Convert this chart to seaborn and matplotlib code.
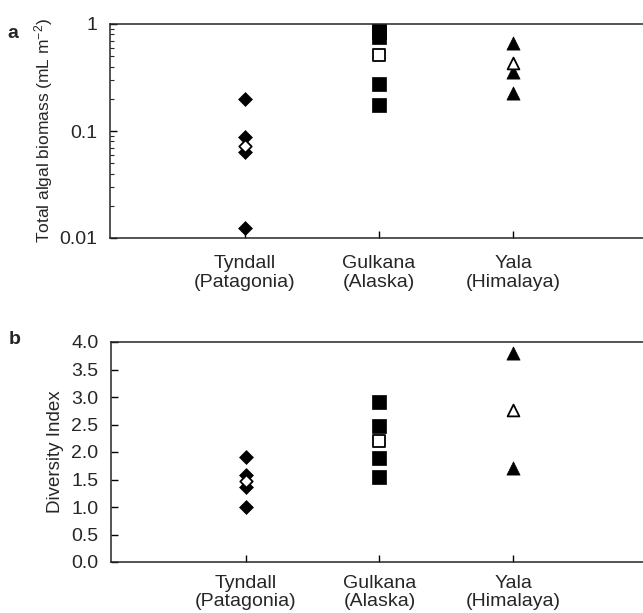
import numpy as np
import pandas as pd
import matplotlib
matplotlib.use("Agg")
import matplotlib.pyplot as plt
import matplotlib.ticker as mticker
import seaborn as sns

sns.set_style("ticks")
plt.rcParams["font.family"] = ["Liberation Sans", "DejaVu Sans"]
plt.rcParams["mathtext.fontset"] = "custom"
plt.rcParams["mathtext.rm"] = "Liberation Sans"
plt.rcParams["mathtext.it"] = "Liberation Sans:italic"

# glacier sites (x categories)
sites = ["Tyndall\n(Patagonia)", "Gulkana\n(Alaska)", "Yala\n(Himalaya)"]
site_markers = ["D", "s", "^"]
site_sizes = [50, 88, 90]

# panel a: total algal biomass (mL m-2), individual samples and mean
biomass_tyndall = [0.2, 0.088, 0.064, 0.0124]
biomass_gulkana = [0.95, 0.85, 0.75, 0.275, 0.175]
biomass_yala = [0.66, 0.355, 0.226]
biomass_mean = [0.072, 0.51, 0.43]

# panel b: diversity index
diversity_tyndall = [1.91, 1.58, 1.36, 1.0]
diversity_gulkana = [2.91, 2.47, 1.89, 1.55]
diversity_yala = [3.8, 1.71]
diversity_mean = [1.47, 2.2, 2.76]

biomass_samples = [biomass_tyndall, biomass_gulkana, biomass_yala]
diversity_samples = [diversity_tyndall, diversity_gulkana, diversity_yala]

W, H = 643, 613
fig = plt.figure(figsize=(W / 100, H / 100), dpi=100)
ax_a = fig.add_axes([110 / W, 1 - 238 / H, (W - 110) / W, (238 - 24) / H])
ax_b = fig.add_axes([111 / W, 1 - 562 / H, (W - 111) / W, (562 - 342) / H])


def draw_panel(ax, samples, means):
    # filled markers for samples, open marker for the mean on top
    for site, vals, mk, sz in zip(sites, samples, site_markers, site_sizes):
        df = pd.DataFrame({"site": [site] * len(vals), "value": vals})
        sns.scatterplot(data=df, x="site", y="value", marker=mk, s=sz,
                        color="black", edgecolor="black", linewidth=0.5,
                        ax=ax, legend=False)
    for site, m, mk, sz in zip(sites, means, site_markers, site_sizes):
        df = pd.DataFrame({"site": [site], "value": [m]})
        sns.scatterplot(data=df, x="site", y="value", marker=mk, s=sz * 0.8,
                        color="white", edgecolor="black", linewidth=1.3,
                        ax=ax, legend=False)
    ax.set_xlim(-1.007, 2.97)
    ax.set_xlabel("")
    ax.spines["right"].set_visible(False)
    for sp in ["left", "top", "bottom"]:
        ax.spines[sp].set_linewidth(1.1)
    ax.tick_params(axis="both", which="major", direction="in", length=5,
                   width=1, labelsize=14, color="black")
    ax.tick_params(axis="both", which="minor", direction="in", length=3, width=0.8)
    ax.tick_params(axis="y", pad=9)
    for lab in ax.get_xticklabels():
        lab.set_linespacing(1.15)


draw_panel(ax_a, biomass_samples, biomass_mean)
ax_a.set_yscale("log")
ax_a.set_ylim(0.01, 1)
ax_a.yaxis.set_major_formatter(mticker.FuncFormatter(lambda v, _: f"{v:g}"))
ax_a.yaxis.set_minor_formatter(mticker.NullFormatter())
ax_a.tick_params(axis="x", pad=12)
ax_a.set_ylabel(r"Total algal biomass (mL m$^{-2}$)", fontsize=12.5, labelpad=3)

draw_panel(ax_b, diversity_samples, diversity_mean)
ax_b.set_ylim(0, 4.0)
ax_b.set_yticks(np.arange(0, 4.01, 0.5))
ax_b.yaxis.set_major_formatter(mticker.FormatStrFormatter("%.1f"))
ax_b.tick_params(axis="x", pad=9)
ax_b.set_ylabel("Diversity Index", fontsize=13.5, labelpad=5)

fig.text(13 / W, 1 - 33 / H, "a", fontsize=14, fontweight="bold", ha="center", va="center")
fig.text(15 / W, 1 - 340 / H, "b", fontsize=14, fontweight="bold", ha="center", va="center")

fig.savefig("out.png", dpi=100)
